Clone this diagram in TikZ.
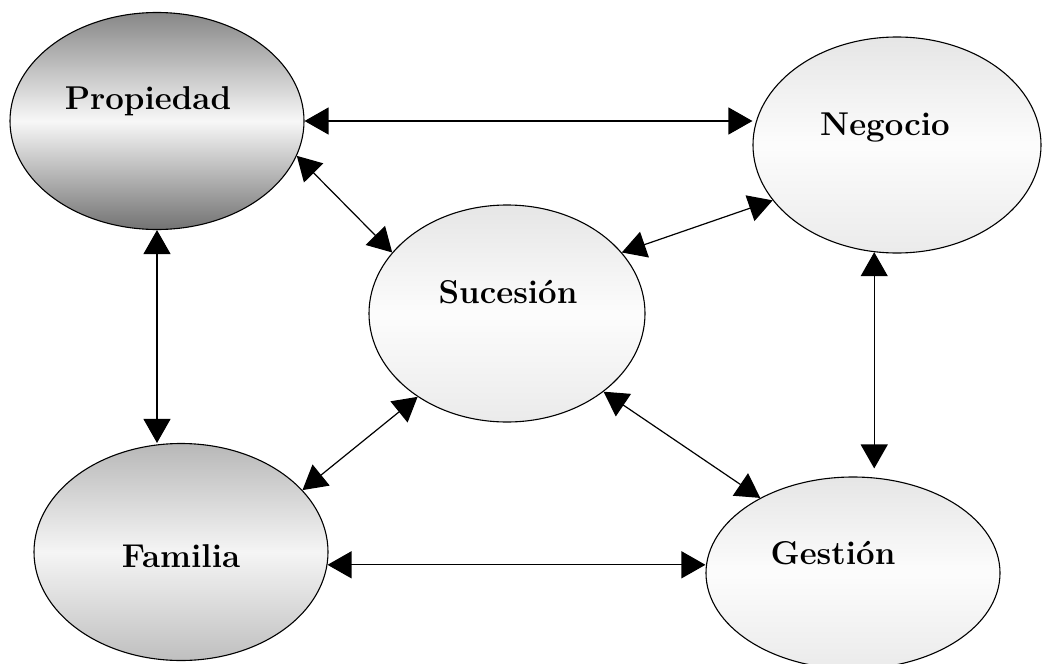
\documentclass[tikz,border=0pt]{standalone}
\usepackage{tikz}
\usetikzlibrary{arrows.meta,calc,shapes.geometric}

\begin{document}
\begin{tikzpicture}[x=1pt,y=-1pt,
  blob/.style={ellipse,draw,line width=1.1pt,inner sep=0pt},
  darkblob/.style={blob,top color=black!47,bottom color=black!55,middle color=black!3},
  midblob/.style={blob,top color=black!28,bottom color=black!25,middle color=black!4},
  paleblob/.style={blob,top color=black!10,bottom color=black!8,middle color=black!1},
  link/.style={{Triangle[length=24pt,width=27pt]}-{Triangle[length=24pt,width=27pt]},line width=1.2pt},
  lbl/.style={anchor=base,font=\fontsize{33}{38}\selectfont\bfseries}]
\useasboundingbox (0,0) rectangle (1042,664);

% ellipses
\node[darkblob,minimum width=294,minimum height=217] (prop) at (157,121) {};
\node[paleblob,minimum width=288,minimum height=216] (neg) at (897,145) {};
\node[paleblob,minimum width=276,minimum height=217] (suc) at (507,313.5) {};
\node[midblob,minimum width=294,minimum height=217] (fam) at (181,552) {};
\node[paleblob,minimum width=294,minimum height=192] (ges) at (853,573) {};

% labels
\node[lbl] (tprop) at ($(prop)+(-9,-12)$) {Propiedad};
\node[lbl] (tneg) at ($(neg)+(-12,-10)$) {Negocio};
\node[lbl] (tsuc) at ($(suc)+(1,-10.5)$) {Sucesión};
\node[lbl] (tfam) at ($(fam)+(0,15)$) {Familia};
\node[lbl] (tges) at ($(ges)+(-20,-9)$) {Gestión};

% arrows
\draw[link] (prop.east) -- (prop.east -| neg.west);
\draw[link] (prop.-14) -- (suc.152);
\draw[link] (neg.204) -- (suc.28);
\draw[link] (prop.south) -- (prop.south |- fam.north);
\draw[link,shorten >=8pt] (neg.258) -- (neg.258 |- ges.north);
\draw[link] (suc.223) -- (fam.27);
\draw[link] (suc.-39) -- (ges.141);
\draw[link] (fam.-5.5) -- (fam.-5.5 -| ges.west);
\end{tikzpicture}
\end{document}
